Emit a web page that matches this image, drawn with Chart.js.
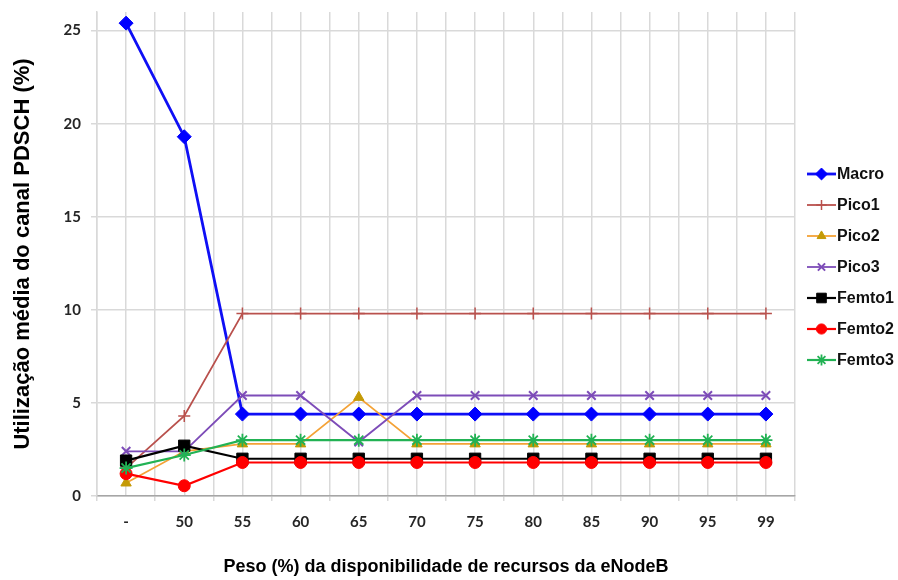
<!DOCTYPE html>
<html>
<head>
<meta charset="utf-8">
<script src="https://cdn.jsdelivr.net/npm/chart.js@4.4.1/dist/chart.umd.min.js"></script>
<style>
  html, body { margin: 0; padding: 0; background: #fff; }
  #wrap { width: 898px; height: 580px; position: relative; }
</style>
</head>
<body>
<div id="wrap"><canvas id="grafico" width="898" height="580"></canvas></div>
<script>
// Dados
const categorias = ['-', '50', '55', '60', '65', '70', '75', '80', '85', '90', '95', '99'];
const macro  = [25.4, 19.3, 4.4, 4.4, 4.4, 4.4, 4.4, 4.4, 4.4, 4.4, 4.4, 4.4];
const pico1  = [1.5, 4.3, 9.8, 9.8, 9.8, 9.8, 9.8, 9.8, 9.8, 9.8, 9.8, 9.8];
const pico2  = [0.7, 2.4, 2.8, 2.8, 5.3, 2.8, 2.8, 2.8, 2.8, 2.8, 2.8, 2.8];
const pico3  = [2.4, 2.4, 5.4, 5.4, 2.9, 5.4, 5.4, 5.4, 5.4, 5.4, 5.4, 5.4];
const femto1 = [1.9, 2.7, 2.0, 2.0, 2.0, 2.0, 2.0, 2.0, 2.0, 2.0, 2.0, 2.0];
const femto2 = [1.2, 0.55, 1.8, 1.8, 1.8, 1.8, 1.8, 1.8, 1.8, 1.8, 1.8, 1.8];
const femto3 = [1.5, 2.2, 3.0, 3.0, 3.0, 3.0, 3.0, 3.0, 3.0, 3.0, 3.0, 3.0];
const ticksY = [0, 5, 10, 15, 20, 25];

const fonteTick = { family: 'Lato, "Liberation Sans", Arial, sans-serif', size: 15, weight: 'bold' };
const fonteTituloX = { family: '"Liberation Sans", Arial, sans-serif', size: 18, weight: 'bold' };
const fonteTituloY = { family: '"Liberation Sans", Arial, sans-serif', size: 22, weight: 'bold' };

function serie(nome, dados, cor, corPonto, estilo, raio, largura, bordaPonto) {
    return {
        label: nome,
        data: dados,
        borderColor: cor,
        borderWidth: largura,
        backgroundColor: corPonto,
        pointBackgroundColor: corPonto,
        pointBorderColor: corPonto,
        pointBorderWidth: bordaPonto,
        pointStyle: estilo,
        pointRadius: raio,
        pointHoverRadius: raio,
        tension: 0,
        fill: false
    };
}

const datasets = [
    serie('Macro', macro, '#0f0ff5', '#0000ff', 'rectRot', 7, 2.8, 1),
    serie('Pico1', pico1, '#b9514d', '#b9514d', 'cross', 6, 1.8, 1.5),
    serie('Pico2', pico2, '#f4a236', '#c49a06', 'triangle', 6, 1.8, 1),
    serie('Pico3', pico3, '#7d4cb8', '#7d4cb8', 'crossRot', 6, 1.8, 2),
    serie('Femto1', femto1, '#000000', '#000000', 'rect', 8, 2.2, 1),
    serie('Femto2', femto2, '#ff0000', '#ff0000', 'circle', 6, 2.2, 1),
    serie('Femto3', femto3, '#22b254', '#22b254', 'star', 6.5, 2.2, 1.8)
];
// Excel desenha a última série por cima
datasets.forEach((d, i) => { d.order = datasets.length - i; });

// Legenda desenhada à direita (linha + marcador)
const legendaPlugin = {
    id: 'legendaDireita',
    afterDraw(chart) {
        const ctx = chart.ctx;
        const x0 = 807, x1 = 836, y0 = 174, passo = 31;
        chart.data.datasets.forEach((d, i) => {
            const y = y0 + i * passo;
            ctx.save();
            ctx.strokeStyle = d.borderColor;
            ctx.lineWidth = d.borderWidth;
            ctx.beginPath();
            ctx.moveTo(x0, y);
            ctx.lineTo(x1, y);
            ctx.stroke();
            ctx.fillStyle = d.pointBackgroundColor;
            ctx.strokeStyle = d.pointBorderColor;
            ctx.lineWidth = d.pointBorderWidth;
            Chart.helpers.drawPoint(ctx, {
                pointStyle: d.pointStyle,
                radius: d.pointRadius * 0.85,
                rotation: 0,
                borderWidth: d.pointBorderWidth
            }, (x0 + x1) / 2, y);
            ctx.fillStyle = '#111';
            ctx.font = 'bold 16px "Liberation Sans", Arial, sans-serif';
            ctx.textBaseline = 'middle';
            ctx.textAlign = 'left';
            ctx.fillText(d.label, x1 + 1, y + 1);
            ctx.restore();
        });
    }
};

new Chart(document.getElementById('grafico'), {
    type: 'line',
    data: { labels: categorias, datasets: datasets },
    options: {
        responsive: false,
        animation: false,
        events: [],
        layout: { padding: { left: 0, right: 103, top: 12, bottom: 0 } },
        plugins: { legend: { display: false }, tooltip: { enabled: false } },
        scales: {
            x: {
                offset: true,
                grid: { offset: true, color: '#d9d9d9', lineWidth: 1.5, tickLength: 5 },
                border: { color: '#a6a6a6', width: 1.5 },
                ticks: { font: fonteTick, color: '#262626', padding: 12, maxRotation: 0, autoSkip: false },
                title: { display: true, text: 'Peso (%) da disponibilidade de recursos da eNodeB', font: fonteTituloX, color: '#000', padding: { top: 2, bottom: 2 } },
                afterFit(scale) { scale.height = 84; scale.paddingLeft = 0; scale.paddingRight = 0; }
            },
            x2: {
                type: 'category',
                labels: categorias,
                position: 'bottom',
                offset: true,
                grid: { offset: false, color: '#d9d9d9', lineWidth: 1.5, drawTicks: false },
                border: { display: false },
                ticks: { display: false },
                afterFit(scale) { scale.height = 0; }
            },
            y: {
                min: 0,
                max: 26,
                grid: { color: '#d9d9d9', lineWidth: 1.5, tickLength: 6 },
                border: { color: '#d9d9d9', width: 1.5 },
                ticks: { font: fonteTick, color: '#262626', padding: 10, stepSize: 5 },
                afterBuildTicks(scale) {
                    scale.ticks = ticksY.map(v => ({ value: v }));
                },
                title: { display: true, text: 'Utilização média do canal PDSCH (%)', font: fonteTituloY, color: '#000', padding: { top: 10, bottom: 10 } },
                afterFit(scale) { scale.width = 97; scale.paddingTop = 0; scale.paddingBottom = 0; }
            }
        }
    },
    plugins: [legendaPlugin]
});
</script>
</body>
</html>
